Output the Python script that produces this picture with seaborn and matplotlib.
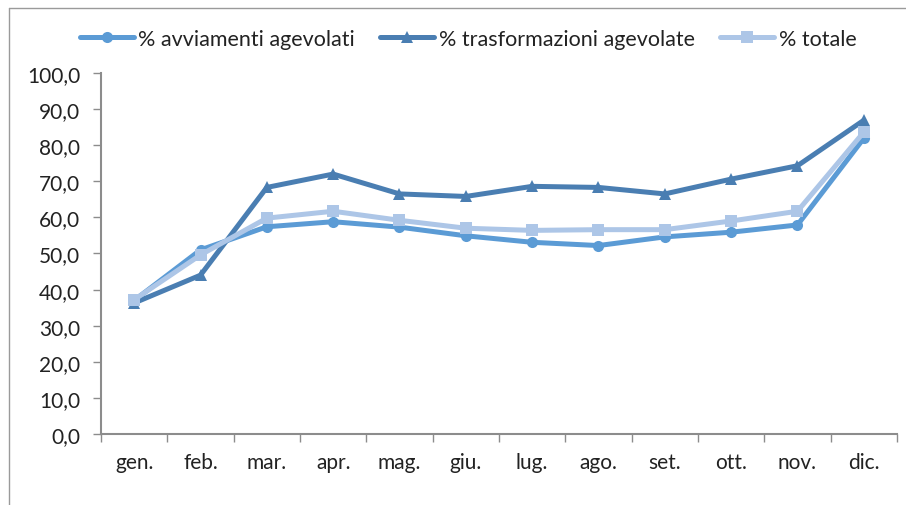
import matplotlib
matplotlib.use("Agg")
import matplotlib.pyplot as plt
from matplotlib.ticker import FuncFormatter, FixedLocator
from matplotlib.lines import Line2D
import seaborn as sns
import pandas as pd

months = ["gen.", "feb.", "mar.", "apr.", "mag.", "giu.", "lug.", "ago.", "set.", "ott.", "nov.", "dic."]
avviamenti = [37.0, 51.0, 57.4, 58.8, 57.3, 54.9, 53.1, 52.2, 54.6, 55.9, 57.9, 81.9]
trasformazioni = [36.3, 44.0, 68.3, 72.0, 66.5, 65.8, 68.6, 68.3, 66.5, 70.6, 74.3, 86.9]
totale = [37.2, 49.6, 59.8, 61.7, 59.2, 57.0, 56.4, 56.6, 56.6, 59.0, 61.7, 83.6]

series_names = ["% avviamenti agevolati", "% trasformazioni agevolate", "% totale"]
series_values = [avviamenti, trasformazioni, totale]

rows = []
for name, vals in zip(series_names, series_values):
    for i, v in enumerate(vals):
        rows.append({"pos": i, "valore": v, "serie": name})
df = pd.DataFrame(rows)

sns.set_theme(style="white")
plt.rcParams["font.family"] = ["Lato", "DejaVu Sans"]

colors = {
    series_names[0]: "#5B9BD5",
    series_names[1]: "#4A7EB2",
    series_names[2]: "#ADC6E7",
}
markers = {series_names[0]: "o", series_names[1]: "^", series_names[2]: "s"}
msizes = {series_names[0]: 8, series_names[1]: 9, series_names[2]: 9}
lw = 3.6

fig = plt.figure(figsize=(9.06, 5.06), dpi=100)
ax = fig.add_axes([0.1115, 0.1403, 0.8785, 0.7135])

for name in series_names:
    sub = df[df["serie"] == name]
    sns.lineplot(data=sub, x="pos", y="valore", ax=ax, color=colors[name],
                 linewidth=lw, marker=markers[name], markersize=msizes[name],
                 markeredgecolor=colors[name], markeredgewidth=0, label=name)

ax.set_xlim(-0.5, len(months) - 0.5)
ax.set_ylim(0, 100)
ax.set_xlabel("")
ax.set_ylabel("")

ax.xaxis.set_major_locator(FixedLocator(range(len(months))))
ax.set_xticklabels(months)
ax.xaxis.set_minor_locator(FixedLocator([i - 0.5 for i in range(len(months) + 1)]))
ax.tick_params(axis="x", which="major", length=0, pad=13, labelsize=15, labelcolor="#222222")
ax.tick_params(axis="x", which="minor", length=6, width=1, color="#8c8c8c", direction="out", bottom=True)

ax.set_yticks(range(0, 101, 10))
ax.yaxis.set_major_formatter(FuncFormatter(lambda v, p: f"{v:.1f}".replace(".", ",")))
ax.tick_params(axis="y", length=6, width=1, color="#8c8c8c", direction="out", left=True,
               labelsize=15, labelcolor="#222222", pad=9)

for side in ["top", "right"]:
    ax.spines[side].set_visible(False)
for side in ["left", "bottom"]:
    ax.spines[side].set_color("#8c8c8c")
    ax.spines[side].set_linewidth(1.5)

ax.legend_.remove()
handles = [Line2D([0], [0], color=colors[n], linewidth=lw, marker=markers[n],
                  markersize=msizes[n], markeredgewidth=0) for n in series_names]
fig.legend(handles, series_names, loc="center", bbox_to_anchor=(468 / 906, 1 - 40 / 506),
           ncol=3, frameon=False, fontsize=15.5, handlelength=2.5, handletextpad=0.2,
           columnspacing=1.2, labelcolor="#222222")

# outer frame of the chart area
fig.add_artist(Line2D([9 / 906, 9 / 906], [0, 1 - 9 / 506], transform=fig.transFigure,
                      color="#9a9a9a", linewidth=1))
fig.add_artist(Line2D([9 / 906, 1], [1 - 9 / 506, 1 - 9 / 506], transform=fig.transFigure,
                      color="#9a9a9a", linewidth=1))

fig.savefig("out.png", dpi=100)
